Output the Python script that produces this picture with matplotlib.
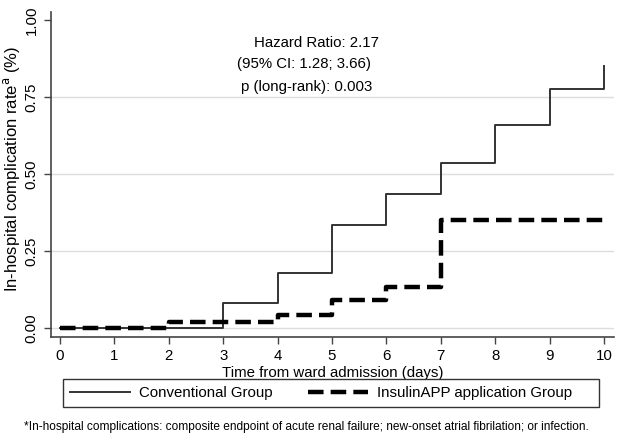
import matplotlib
matplotlib.use("Agg")
import matplotlib.pyplot as plt
from matplotlib.lines import Line2D
from matplotlib.patches import Rectangle

plt.rcParams['font.family'] = ['Liberation Sans', 'DejaVu Sans']

conv_days = [0, 3, 4, 5, 6, 7, 8, 9, 10]
conv_rate = [0.0, 0.08, 0.18, 0.333, 0.435, 0.535, 0.66, 0.775, 0.85]
app_days = [0, 2, 4, 5, 6, 7, 10]
app_rate = [0.0, 0.02, 0.042, 0.09, 0.133, 0.35, 0.35]
xticks = list(range(0, 11))
yticks = [0.0, 0.25, 0.5, 0.75, 1.0]
ytick_labels = ["0.00", "0.25", "0.50", "0.75", "1.00"]
series_labels = ['Conventional Group', 'InsulinAPP application Group']

W, H = 629, 440
fig = plt.figure(figsize=(6.29, 4.40), dpi=100)
ax = fig.add_axes([51/W, 1-337/H, (614-51)/W, (337-12)/H])

ax.step(conv_days, conv_rate, where='post', color='#333333', lw=1.4,
        label=series_labels[0])
ax.step(app_days, app_rate, where='post', color='black', lw=3.2,
        dashes=(3.5, 1.6), label=series_labels[1])

ax.set_xlim(-9/54.4, 10 + 10/54.4)
ax.set_ylim(-9/308, 1 + 8/308)
ax.set_xticks(xticks)
ax.set_yticks(yticks)
ax.set_yticklabels(ytick_labels, rotation=90, va='center')
for y in [0.0, 0.25, 0.5, 0.75]:
    ax.axhline(y, color='#dddddd', lw=1.0, zorder=0)
for s in ['top', 'right']:
    ax.spines[s].set_visible(False)
for s in ['left', 'bottom']:
    ax.spines[s].set_color('#444444')
    ax.spines[s].set_linewidth(1.2)
ax.tick_params(axis='both', labelsize=10.8, color='#444444', length=5, width=1)
ax.tick_params(axis='y', pad=4)
ax.set_xlabel('Time from ward admission (days)', fontsize=10.8, labelpad=2)
ax.set_ylabel('In-hospital complication rate$^{\\mathrm{a}}$ (%)', fontsize=12)
ax.yaxis.set_label_coords(-29/(614-51), (337-169)/(337-12))

ax.text(254/W, 1-43/H, 'Hazard Ratio: 2.17', transform=fig.transFigure,
        fontsize=10.8, va='center', ha='left')
ax.text(237/W, 1-64/H, '(95% CI: 1.28; 3.66)', transform=fig.transFigure,
        fontsize=10.8, va='center', ha='left')
ax.text(241/W, 1-87/H, 'p (long-rank): 0.003', transform=fig.transFigure,
        fontsize=10.8, va='center', ha='left')

# legend box
fig.patches.append(Rectangle((63/W, 1-407/H), (599-63)/W, 28/H,
                             transform=fig.transFigure, fill=False,
                             edgecolor='#333333', lw=1.0))
handles = [Line2D([], [], color='#333333', lw=1.4),
           Line2D([], [], color='black', lw=3.2, dashes=(3.5, 1.6))]
fs = 10.8
pxpf = fs * 100 / 72
leg = fig.legend(handles, series_labels,
                 loc='center left', bbox_to_anchor=(70/W, 1-393/H),
                 ncol=2, fontsize=fs, frameon=False,
                 handlelength=60/pxpf, borderpad=0, borderaxespad=0,
                 columnspacing=35/pxpf, handletextpad=9/pxpf)

fig.text(24/W, 1-427/H,
         '*In-hospital complications: composite endpoint of acute renal failure; new-onset atrial fibrilation; or infection.',
         fontsize=8.6, va='center', ha='left')

fig.savefig('out.png', dpi=100)
